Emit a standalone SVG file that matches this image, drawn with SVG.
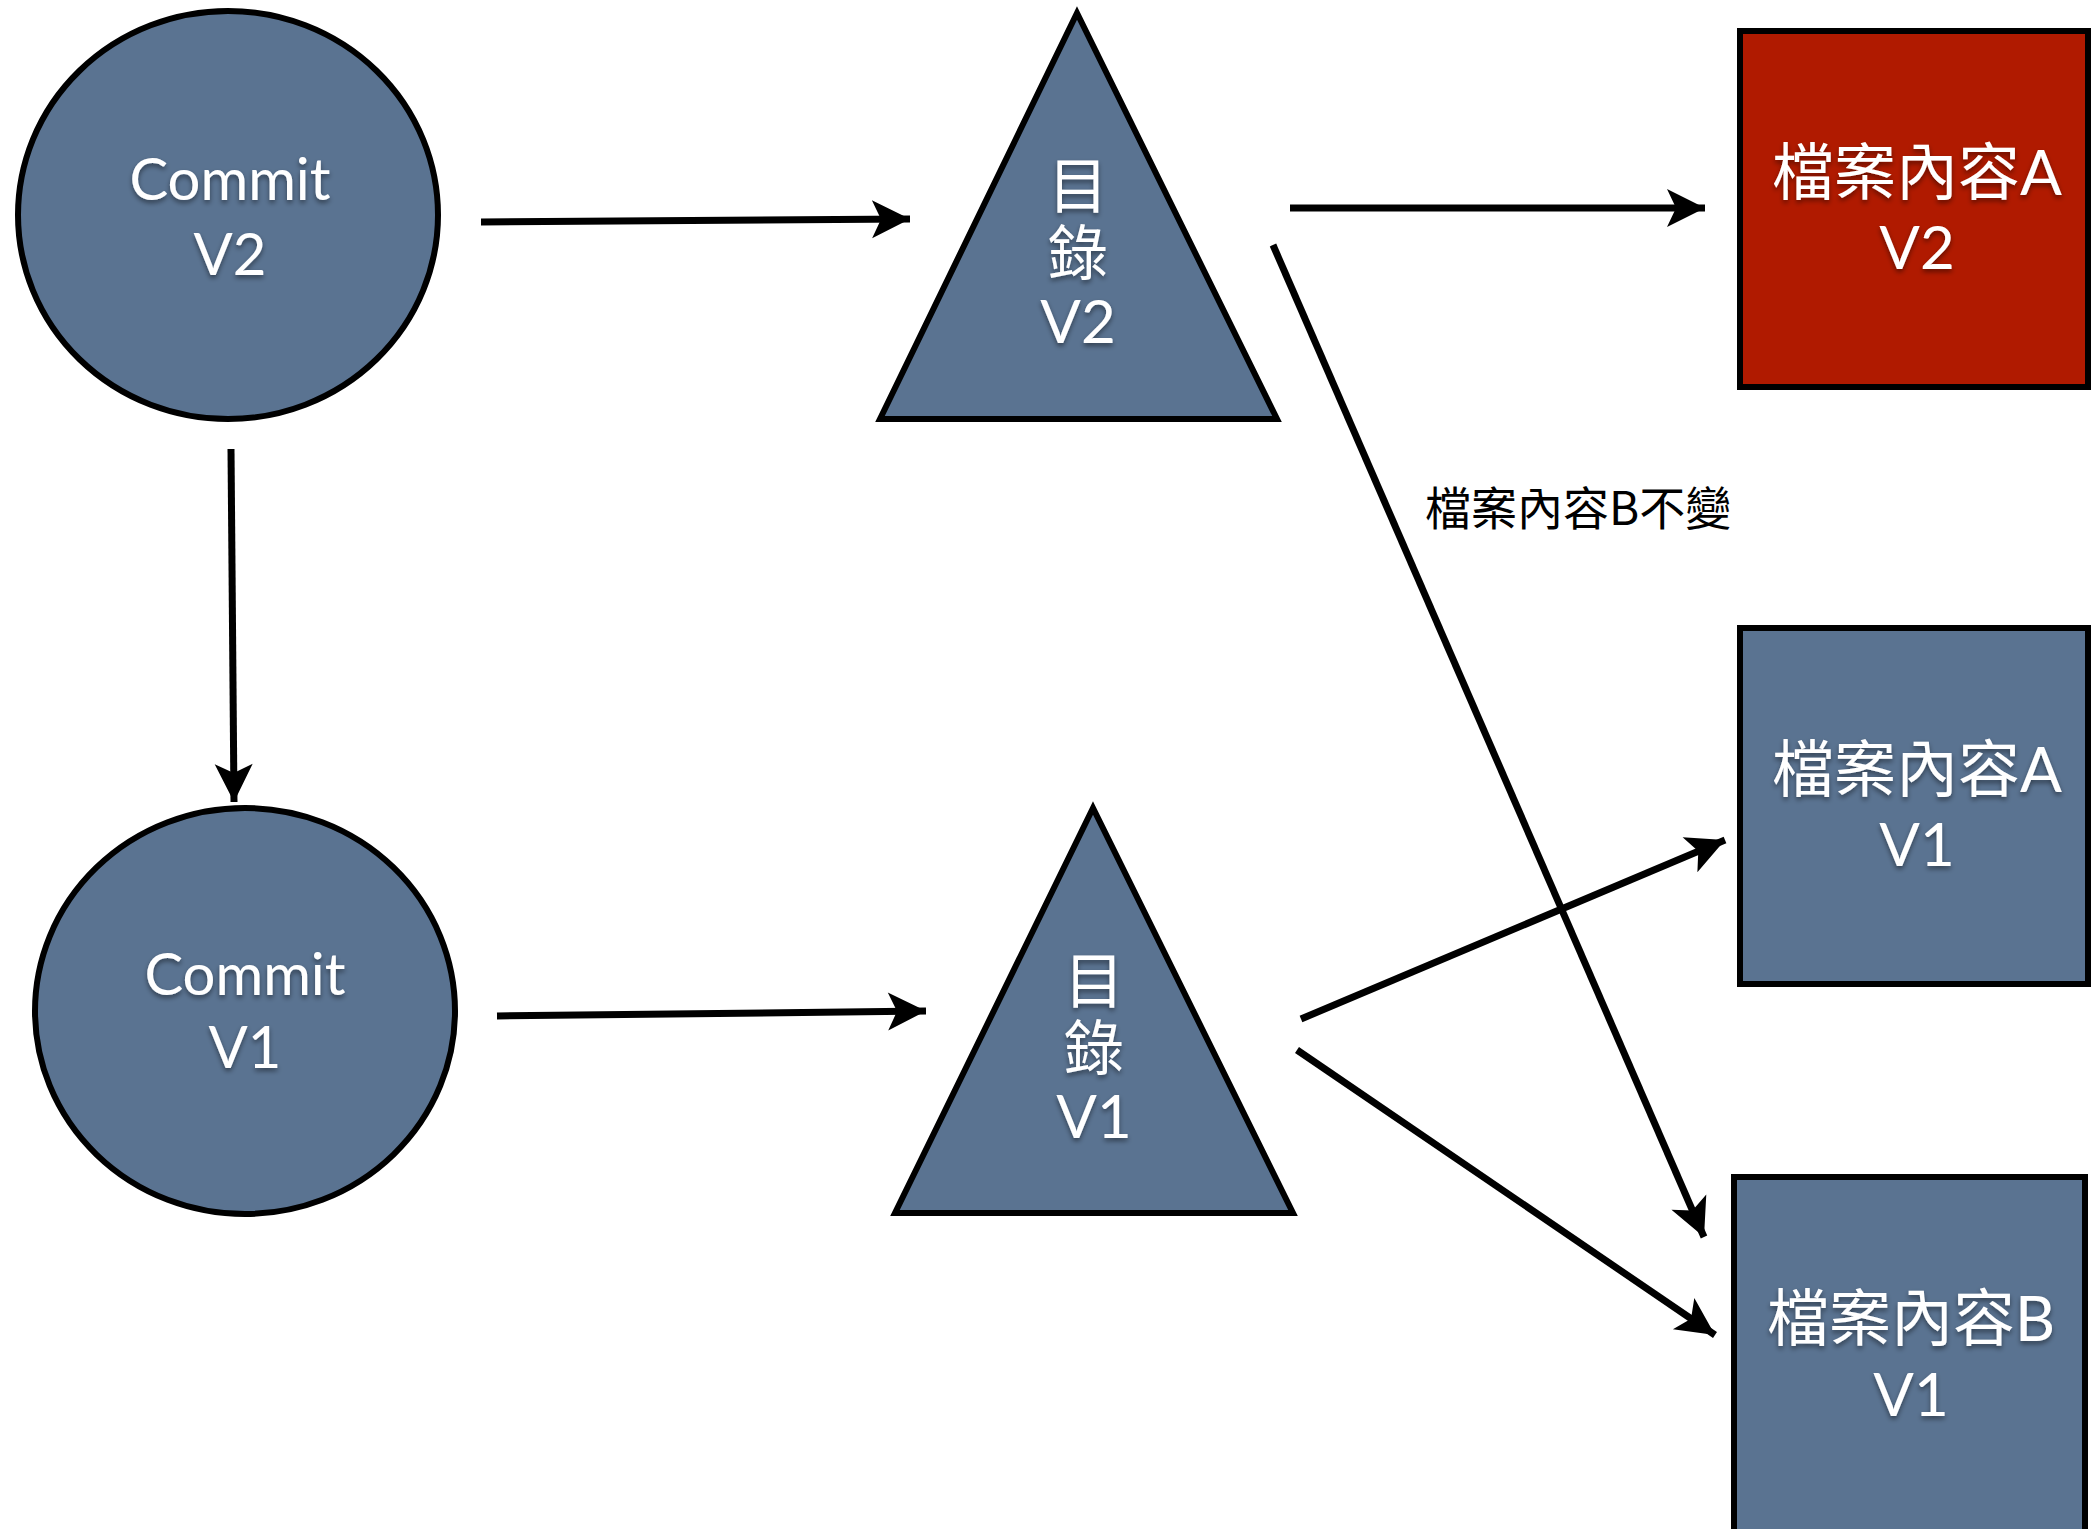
<svg xmlns="http://www.w3.org/2000/svg" width="2091" height="1529" viewBox="0 0 2091 1529">
  <defs>
    <marker id="ah" markerUnits="userSpaceOnUse" markerWidth="44" markerHeight="44" refX="40" refY="22" orient="auto" overflow="visible">
      <path d="M40,22 L2,3 L11,22 L2,41 Z" fill="#000"/>
    </marker>
    <filter id="shadow" x="-20%" y="-20%" width="140%" height="140%">
      <feDropShadow dx="0" dy="3" stdDeviation="2.5" flood-color="#000" flood-opacity="0.45"/>
    </filter>
  </defs>
  <style>
    .blue { fill: #5a7391; stroke: #000; stroke-width: 6; }
    .red { fill: #b01a00; stroke: #000; stroke-width: 6; }
    .lbl { font-family: Lato, "Noto Sans CJK TC", sans-serif; fill: #fff; text-anchor: middle; }
    .cjk { font-family: "Noto Sans CJK TC", sans-serif; }
    .lat { font-family: Lato, sans-serif; }
    .conn { stroke: #000; stroke-width: 7; fill: none; marker-end: url(#ah); }
    .note { font-family: "Noto Sans CJK TC", sans-serif; font-size: 46px; fill: #000; }
  </style>

  <g id="connectors">
    <line class="conn" x1="481" y1="222" x2="910" y2="219"/>
    <line class="conn" x1="1290" y1="208" x2="1705" y2="208"/>
    <line class="conn" x1="231" y1="449" x2="234" y2="802"/>
    <line class="conn" x1="497" y1="1016" x2="926" y2="1011"/>
    <line class="conn" x1="1273" y1="245" x2="1704" y2="1237"/>
    <line class="conn" x1="1301" y1="1019" x2="1725" y2="840"/>
    <line class="conn" x1="1297" y1="1050" x2="1715" y2="1335"/>
  </g>

  <g id="commit-v2">
    <ellipse class="blue" cx="228" cy="215" rx="210" ry="204"/>
    <text class="lbl" filter="url(#shadow)" font-size="58"><tspan x="230" y="200">Commit</tspan><tspan x="230" y="275">V2</tspan></text>
  </g>

  <g id="commit-v1">
    <ellipse class="blue" cx="245" cy="1011" rx="210" ry="203"/>
    <text class="lbl" filter="url(#shadow)" font-size="58"><tspan x="245" y="995">Commit</tspan><tspan x="245" y="1068">V1</tspan></text>
  </g>

  <g id="tree-v2">
    <polygon class="blue" points="1077,13 880,419 1277,419"/>
    <text class="lbl" filter="url(#shadow)" font-size="60"><tspan class="cjk" x="1078" y="208">目</tspan><tspan class="cjk" x="1078" y="275">錄</tspan><tspan class="lat" x="1078" y="343">V2</tspan></text>
  </g>

  <g id="tree-v1">
    <polygon class="blue" points="1093,808 895,1213 1293,1213"/>
    <text class="lbl" filter="url(#shadow)" font-size="60"><tspan class="cjk" x="1094" y="1003">目</tspan><tspan class="cjk" x="1094" y="1070">錄</tspan><tspan class="lat" x="1094" y="1138">V1</tspan></text>
  </g>

  <g id="file-a-v2">
    <rect class="red" x="1740" y="31" width="348" height="356"/>
    <text class="lbl" filter="url(#shadow)" font-size="62"><tspan x="1917" y="195">檔案內容A</tspan><tspan x="1917" y="269" font-size="60">V2</tspan></text>
  </g>

  <g id="file-a-v1">
    <rect class="blue" x="1740" y="628" width="348" height="356"/>
    <text class="lbl" filter="url(#shadow)" font-size="62"><tspan x="1917" y="792">檔案內容A</tspan><tspan x="1917" y="866" font-size="60">V1</tspan></text>
  </g>

  <g id="file-b-v1">
    <rect class="blue" x="1734" y="1177" width="351" height="370"/>
    <text class="lbl" filter="url(#shadow)" font-size="62"><tspan x="1911" y="1341">檔案內容B</tspan><tspan x="1911" y="1416" font-size="60">V1</tspan></text>
  </g>

  <g id="label-b-unchanged">
    <text class="note" x="1425" y="525">檔案內容B不變</text>
  </g>
</svg>
